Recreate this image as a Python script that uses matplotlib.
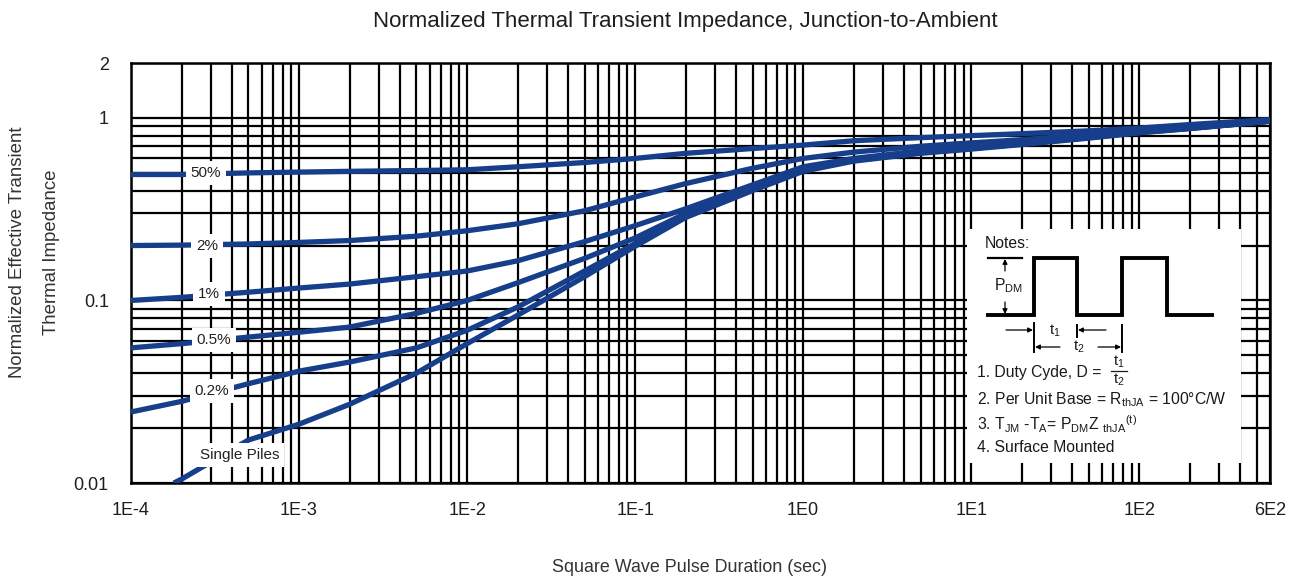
import matplotlib
matplotlib.use("Agg")
import matplotlib.pyplot as plt
from matplotlib.ticker import FixedLocator, NullFormatter

plt.rcParams['font.family'] = ['Liberation Sans', 'DejaVu Sans']
plt.rcParams['mathtext.default'] = 'regular'

# ---------------- data ----------------
x_pts = [1e-4, 2e-4, 5e-4, 1e-3, 2e-3, 5e-3, 1e-2, 2e-2, 5e-2, 1e-1, 2e-1, 5e-1,
         1, 2, 5, 10, 20, 50, 100, 200, 600]
d50 = [0.49, 0.49, 0.50, 0.505, 0.51, 0.515, 0.52, 0.54, 0.57, 0.60, 0.64, 0.68,
       0.71, 0.75, 0.78, 0.80, 0.82, 0.85, 0.88, 0.92, 0.98]
d2 = [0.20, 0.201, 0.204, 0.208, 0.213, 0.225, 0.241, 0.263, 0.31, 0.369, 0.437, 0.53,
      0.60, 0.65, 0.70, 0.73, 0.76, 0.81, 0.85, 0.89, 0.965]
d1 = [0.100, 0.104, 0.111, 0.117, 0.123, 0.135, 0.145, 0.165, 0.21, 0.257, 0.318, 0.43,
      0.54, 0.60, 0.66, 0.69, 0.73, 0.79, 0.84, 0.88, 0.96]
d05 = [0.055, 0.058, 0.063, 0.067, 0.0715, 0.085, 0.100, 0.125, 0.17, 0.22, 0.30, 0.42,
       0.53, 0.59, 0.65, 0.685, 0.725, 0.785, 0.835, 0.88, 0.96]
d02 = [0.0245, 0.028, 0.035, 0.041, 0.046, 0.055, 0.0686, 0.092, 0.145, 0.205, 0.29, 0.41,
       0.52, 0.585, 0.645, 0.68, 0.72, 0.78, 0.83, 0.875, 0.96]
x_single = [1.8e-4, 2e-4, 5e-4, 1e-3, 2e-3, 5e-3, 1e-2, 2e-2, 5e-2, 1e-1, 2e-1, 5e-1,
            1, 2, 5, 10, 20, 50, 100, 200, 600]
single = [0.010, 0.0105, 0.0172, 0.021, 0.027, 0.040, 0.058, 0.083, 0.135, 0.198, 0.285, 0.40,
          0.51, 0.58, 0.64, 0.675, 0.715, 0.775, 0.83, 0.875, 0.96]

series = [("50%", x_pts, d50), ("2%", x_pts, d2), ("1%", x_pts, d1),
          ("0.5%", x_pts, d05), ("0.2%", x_pts, d02), ("Single Piles", x_single, single)]

x_ticks = [1e-4, 1e-3, 1e-2, 1e-1, 1, 10, 100, 600]
x_ticklabels = ["1E-4", "1E-3", "1E-2", "1E-1", "1E0", "1E1", "1E2", "6E2"]
y_ticks = [0.01, 0.1, 1, 2]
y_ticklabels = ["0.01", "0.1", "1", "2"]

# ---------------- figure ----------------
W, H = 1291, 577
fig = plt.figure(figsize=(W / 100, H / 100), dpi=100)
fig.patch.set_facecolor('white')

L, R, T, B = 131, 1270, 63, 483
ax = fig.add_axes([L / W, 1 - B / H, (R - L) / W, (B - T) / H])
ax.set_xscale('log')
ax.set_yscale('log')
ax.set_xlim(1e-4, 600)
ax.set_ylim(0.01, 2)

# grid
xminor = [m * 10.0 ** e for e in range(-4, 3) for m in range(2, 10) if m * 10.0 ** e < 600]
yminor = [m * 10.0 ** e for e in range(-2, 0) for m in range(2, 10)]
ax.xaxis.set_major_locator(FixedLocator(x_ticks))
ax.xaxis.set_minor_locator(FixedLocator(xminor))
ax.yaxis.set_major_locator(FixedLocator(y_ticks))
ax.yaxis.set_minor_locator(FixedLocator(yminor))
ax.set_xticklabels(x_ticklabels)
ax.set_yticklabels(y_ticklabels)
ax.xaxis.set_minor_formatter(NullFormatter())
ax.yaxis.set_minor_formatter(NullFormatter())
ax.grid(True, which='both', color='black', linewidth=1.6)
ax.set_axisbelow(True)
ax.tick_params(which='both', length=0)
ax.tick_params(axis='x', pad=14, labelsize=13, colors='#1e1e1e')
ax.tick_params(axis='y', pad=16, labelsize=13, colors='#1e1e1e')
for s in ax.spines.values():
    s.set_linewidth(1.8)
    s.set_color('black')

blue = '#173e8a'
for name, xs, ys in series:
    ax.plot(xs, ys, color=blue, linewidth=3.8, solid_joinstyle='round',
            solid_capstyle='butt', zorder=3)

# curve labels (positions in pixel -> axes fraction)
label_pos = {"50%": (206, 173), "2%": (207, 246), "1%": (209, 294),
             "0.5%": (214, 340), "0.2%": (212, 391), "Single Piles": (240, 455)}
for name, (px, py) in label_pos.items():
    ax.text((px - L) / (R - L), (B - py) / (B - T), name, transform=ax.transAxes,
            ha='center', va='center', fontsize=11, color='#222222', zorder=5,
            bbox=dict(boxstyle='square,pad=0.3', facecolor='white', edgecolor='none'))

# titles
fig.text(685 / W, 1 - 21 / H, "Normalized Thermal Transient Impedance, Junction-to-Ambient",
         ha='center', va='center', fontsize=16, color='#1e1e1e')
fig.text(690 / W, 1 - 567 / H, "Square Wave Pulse Duration (sec)",
         ha='center', va='center', fontsize=12.9, color='#333333')
fig.text(18 / W, 1 - 252 / H, "Normalized Effective Transient", rotation=90,
         ha='center', va='center', fontsize=13.4, color='#333333')
fig.text(52 / W, 1 - 252 / H, "Thermal Impedance", rotation=90,
         ha='center', va='center', fontsize=13.4, color='#333333')

# ---------------- notes box ----------------
bx0, bx1, by0, by1 = 967, 1241, 229, 463
nx = fig.add_axes([bx0 / W, 1 - by1 / H, (bx1 - bx0) / W, (by1 - by0) / H], zorder=10)
nx.set_facecolor('white')
nx.set_xlim(bx0, bx1)
nx.set_ylim(by1, by0)
nx.set_xticks([])
nx.set_yticks([])
for s in nx.spines.values():
    s.set_visible(False)

tc = '#1a1a1a'
fs = 11.3
nx.text(985, 244, "Notes:", ha='left', va='center', fontsize=fs, color=tc)
# pulse train
px_ = [988, 1034, 1034, 1077, 1077, 1122, 1122, 1167, 1167, 1212]
py_ = [315, 315, 258, 258, 315, 315, 258, 258, 315, 315]
nx.plot(px_, py_, color='black', linewidth=2.8, solid_joinstyle='miter')
nx.plot([988, 1022], [258, 258], color='black', linewidth=1.6)
arrow = dict(arrowstyle='-|>', color='black', lw=0.9, mutation_scale=7, shrinkA=0, shrinkB=0)
nx.annotate("", xy=(1005, 259), xytext=(1005, 271), arrowprops=arrow)
nx.annotate("", xy=(1005, 314), xytext=(1005, 302), arrowprops=arrow)
nx.text(1008, 286, "P$_{DM}$", ha='center', va='center', fontsize=fs, color=tc)
# dimension ticks
nx.plot([1034, 1034], [323, 352], color='black', linewidth=1.4)
nx.plot([1077, 1077], [325, 337], color='black', linewidth=1.4)
nx.plot([1122, 1122], [325, 352], color='black', linewidth=1.4)
nx.annotate("", xy=(1033, 330), xytext=(1006, 330), arrowprops=arrow)
nx.annotate("", xy=(1078, 330), xytext=(1106, 330), arrowprops=arrow)
nx.annotate("", xy=(1035, 347), xytext=(1060, 347), arrowprops=arrow)
nx.annotate("", xy=(1121, 347), xytext=(1098, 347), arrowprops=arrow)
nx.text(1055, 331, "t$_1$", ha='center', va='center', fontsize=fs - 0.5, color=tc)
nx.text(1079, 347, "t$_2$", ha='center', va='center', fontsize=fs - 0.5, color=tc)
# notes text
nx.text(977, 372, "1. Duty Cyde, D = ", ha='left', va='center', fontsize=fs, color=tc)
nx.text(1119, 362, "t$_1$", ha='center', va='center', fontsize=fs - 0.5, color=tc)
nx.plot([1111, 1127], [371, 371], color=tc, linewidth=0.9)
nx.text(1119, 380, "t$_2$", ha='center', va='center', fontsize=fs - 0.5, color=tc)
nx.text(977, 400, "2. Per Unit Base = R$_{thJA}$ = 100°C/W", ha='left', va='center',
        fontsize=fs, color=tc)
nx.text(977, 424, "3. T$_{JM}$ -T$_{A}$= P$_{DM}$Z $_{thJA}$$^{(t)}$", ha='left', va='center',
        fontsize=fs, color=tc)
nx.text(977, 448, "4. Surface Mounted", ha='left', va='center', fontsize=fs, color=tc)

fig.savefig("out.png", dpi=100, facecolor='white')
